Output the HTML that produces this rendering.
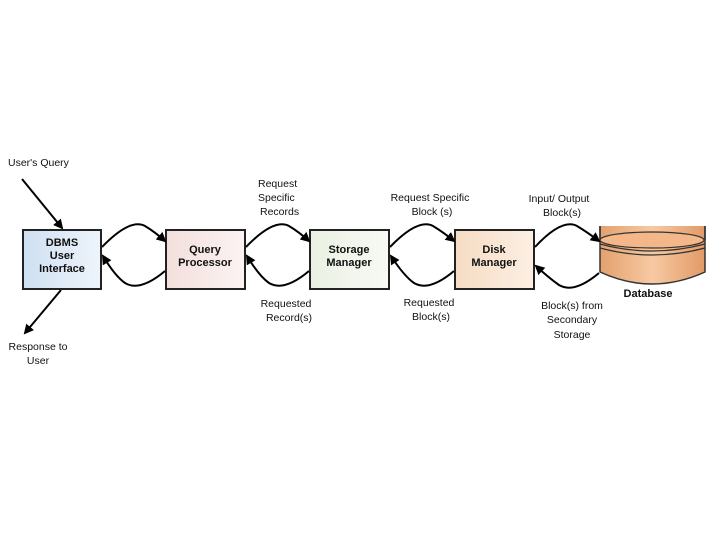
<!DOCTYPE html>
<html><head><style>
body{margin:0;width:720px;height:540px;background:#fff;overflow:hidden}
svg text{font-family:"Liberation Sans",sans-serif;font-size:10.5px;fill:#111}
.b{font-weight:bold;font-size:11px}
</style></head><body>
<svg width="720" height="540" viewBox="0 0 720 540">
<defs>
<marker id="a" markerWidth="10" markerHeight="10" refX="8" refY="5" orient="auto" markerUnits="userSpaceOnUse"><path d="M0,0 L10,5 L0,10 z" fill="#000"/></marker>
<linearGradient id="g1" x1="0" x2="1"><stop offset="0" stop-color="#cfe0f2"/><stop offset="1" stop-color="#eef4fb"/></linearGradient>
<linearGradient id="g2" x1="0" x2="1"><stop offset="0" stop-color="#f2dfdc"/><stop offset="1" stop-color="#fbf3f2"/></linearGradient>
<linearGradient id="g3" x1="0" x2="1"><stop offset="0" stop-color="#eaf0e2"/><stop offset="1" stop-color="#f8faf5"/></linearGradient>
<linearGradient id="g4" x1="0" x2="1"><stop offset="0" stop-color="#f6dcc4"/><stop offset="1" stop-color="#fcefe3"/></linearGradient>
<linearGradient id="g5" x1="0" x2="1"><stop offset="0" stop-color="#e3a16e"/><stop offset="0.5" stop-color="#f7c9a2"/><stop offset="1" stop-color="#e29a66"/></linearGradient>
</defs>
<g stroke="#222" stroke-width="2">
<rect x="23" y="230" width="78" height="59" fill="url(#g1)"/>
<rect x="166" y="230" width="79" height="59" fill="url(#g2)"/>
<rect x="310" y="230" width="79" height="59" fill="url(#g3)"/>
<rect x="455" y="230" width="79" height="59" fill="url(#g4)"/>
</g>
<text class="b" x="62" y="246" text-anchor="middle">DBMS</text>
<text class="b" x="62" y="259" text-anchor="middle">User</text>
<text class="b" x="62" y="272" text-anchor="middle">Interface</text>
<text class="b" x="205" y="253" text-anchor="middle">Query</text>
<text class="b" x="205" y="266" text-anchor="middle">Processor</text>
<text class="b" x="349" y="253" text-anchor="middle">Storage</text>
<text class="b" x="349" y="266" text-anchor="middle">Manager</text>
<text class="b" x="494" y="253" text-anchor="middle">Disk</text>
<text class="b" x="494" y="266" text-anchor="middle">Manager</text>
<!-- database -->
<path d="M600,226 L600,272 Q652,296 705,272 L705,226" fill="url(#g5)" stroke="#333" stroke-width="1.5"/>
<ellipse cx="652" cy="240" rx="52" ry="8" fill="#f3b78a" stroke="#333" stroke-width="1.2"/>
<path d="M600,244 Q652,258 705,244 M600,248 Q652,262 705,248" fill="none" stroke="#333" stroke-width="1.2"/>
<path d="M600,226 L600,240 M705,226 L705,240" stroke="#333" stroke-width="1.5"/>
<text class="b" x="648" y="297" text-anchor="middle">Database</text>
<g fill="none" stroke="#000" stroke-width="2" marker-end="url(#a)">
<path d="M102,247 Q130,218 145,226 Q155,232 165,241"/>
<path d="M165,271 Q140,292 125,283 Q115,276 103,256"/>
<path d="M246,247 Q274,218 289,226 Q299,232 309,241"/>
<path d="M309,271 Q284,292 269,283 Q259,276 247,256"/>
<path d="M390,247 Q418,218 433,226 Q443,232 454,241"/>
<path d="M454,271 Q429,292 414,283 Q404,276 391,256"/>
<path d="M535,247 Q562,218 577,226 Q587,232 599,241"/>
<path d="M599,273 Q574,294 559,285 Q549,278 536,266"/>
<path d="M22,179 L62,228"/>
<path d="M61,290 L25,333"/>
</g>
<text x="8" y="166">User's Query</text>
<text x="38" y="350" text-anchor="middle">Response to</text>
<text x="38" y="364" text-anchor="middle">User</text>
<text x="258" y="187">Request</text>
<text x="258" y="201">Specific</text>
<text x="260" y="215">Records</text>
<text x="286" y="307" text-anchor="middle">Requested</text>
<text x="289" y="321" text-anchor="middle">Record(s)</text>
<text x="430" y="201" text-anchor="middle">Request Specific</text>
<text x="432" y="215" text-anchor="middle">Block (s)</text>
<text x="429" y="306" text-anchor="middle">Requested</text>
<text x="431" y="320" text-anchor="middle">Block(s)</text>
<text x="559" y="202" text-anchor="middle">Input/ Output</text>
<text x="562" y="216" text-anchor="middle">Block(s)</text>
<text x="572" y="309" text-anchor="middle">Block(s) from</text>
<text x="572" y="323" text-anchor="middle">Secondary</text>
<text x="572" y="338" text-anchor="middle">Storage</text>
</svg>
</body></html>
